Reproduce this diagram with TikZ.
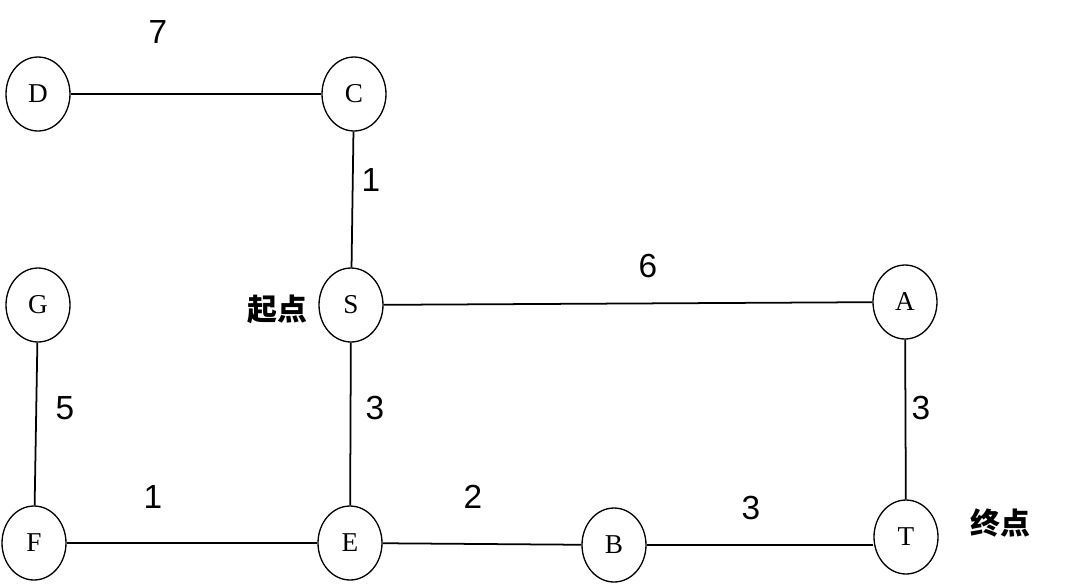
\documentclass[tikz,border=0pt]{standalone}
\usepackage{fontspec}
\setmainfont{Liberation Serif}
\newfontfamily\numfont{Liberation Sans}
\newfontfamily\cjk{Noto Sans CJK SC}
\usetikzlibrary{shapes.geometric}
\tikzset{
	vertex/.style={draw, ellipse, line width=0.75pt, minimum width=1.28cm, minimum height=1.48cm, inner sep=0pt, font=\fontsize{15.5}{15.5}\selectfont},
	edge/.style={line width=1pt},
	weight/.style={font=\numfont\fontsize{19}{19}\selectfont},
	mark label/.style={font=\cjk\bfseries\fontsize{17}{17}\selectfont}
}

\begin{document}
\begin{tikzpicture}[x=0.02cm, y=-0.02cm]
	\useasboundingbox (0,0) rectangle (1080,586);
	\node[vertex] (D) at (38,94) {D};
	\node[vertex] (C) at (354,94) {C};
	\node[vertex] (G) at (38,305) {G};
	\node[vertex] (S) at (351,305) {S};
	\node[vertex] (A) at (905,302) {A};
	\node[vertex] (F) at (34,543) {F};
	\node[vertex] (E) at (350,543) {E};
	\node[vertex] (B) at (614,545) {B};
	\node[vertex] (T) at (906,537) {T};
	\draw[edge] (D) -- (C);
	\draw[edge] (C) -- (S);
	\draw[edge] (S) -- (A);
	\draw[edge] (S) -- (E);
	\draw[edge] (A) -- (T);
	\draw[edge] (G) -- (F);
	\draw[edge] (F) -- (E);
	\draw[edge] (E) -- (B);
	\draw[edge] (B) -- (B -| T.west);
	\node[weight] (wDC) at (158,32) {7};
	\node[weight] (wCS) at (371,180) {1};
	\node[weight] (wSA) at (648,266) {6};
	\node[weight] (wGF) at (65,408) {5};
	\node[weight] (wSE) at (375,408) {3};
	\node[weight] (wAT) at (921,408) {3};
	\node[weight] (wFE) at (153,497) {1};
	\node[weight] (wEB) at (473,497) {2};
	\node[weight] (wBT) at (751,508) {3};
	\node[mark label] (start) at (277,309) {起点};
	\node[mark label] (goal) at (1000,523) {终点};
\end{tikzpicture}
\end{document}
